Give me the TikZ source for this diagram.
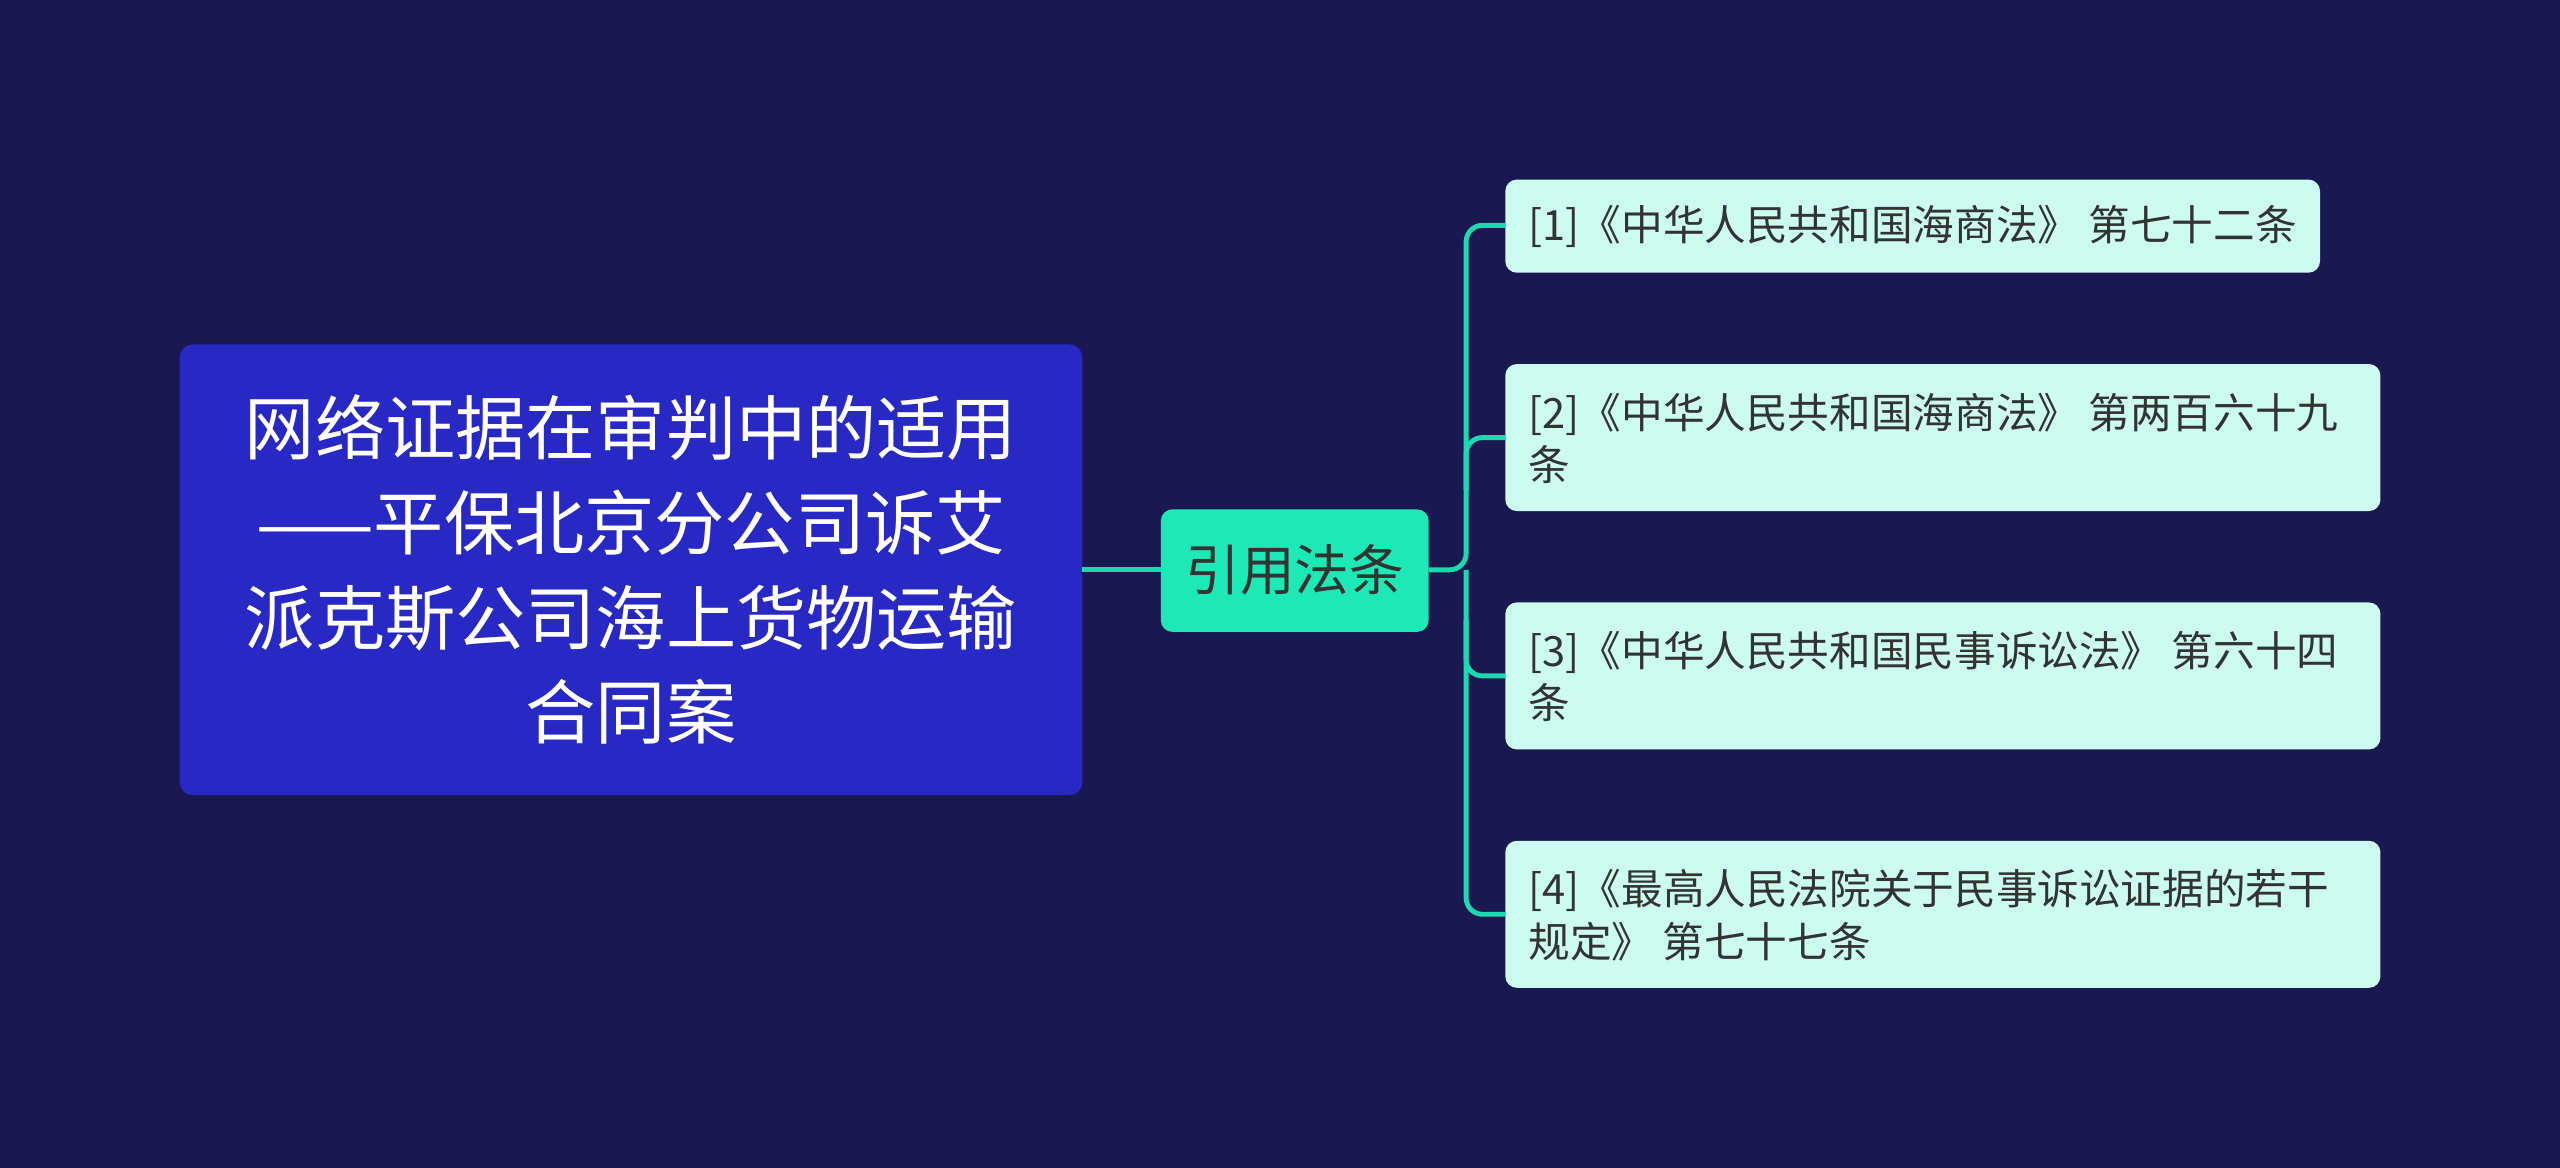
\documentclass[tikz,border=0pt]{standalone}
\usepackage{fontspec}
\setmainfont{Noto Sans CJK SC}
\definecolor{bg}{HTML}{1A1850}
\definecolor{rootc}{HTML}{2828C4}
\definecolor{midc}{HTML}{1DE9B6}
\definecolor{leafc}{HTML}{CCFBEF}
\definecolor{linec}{HTML}{1DD9B0}
\definecolor{txt}{HTML}{333333}
\begin{document}
\begin{tikzpicture}[x=1pt,y=-1pt,
 lt/.style={text=txt,anchor=west,align=left,inner sep=0pt,font=\fontsize{25.5}{32}\selectfont},
 conn/.style={draw=linec,line width=3pt,rounded corners=10pt}]
\useasboundingbox (0,0) rectangle (1568,715);
\fill[bg] (-5,-5) rectangle (1573,720);
\fill[rootc,rounded corners=8pt] (110,211) rectangle (663,487);
\node[text=white,align=center,font=\fontsize{43}{58}\selectfont] (root) at (386.5,349) {网络证据在审判中的适用\\——平保北京分公司诉艾\\派克斯公司海上货物运输\\合同案};
\coordinate (rootE) at (663,349);
\fill[midc,rounded corners=7pt] (711,312) rectangle (875,387);
\node[text=txt,font=\fontsize{33.5}{40}\selectfont] (mid) at (793,349) {引用法条};
\coordinate (midW) at (711,349);
\coordinate (midE) at (875,349);
\fill[leafc,rounded corners=7pt] (922,110) rectangle (1421,167);
\fill[leafc,rounded corners=7pt] (922,223) rectangle (1458,313);
\fill[leafc,rounded corners=7pt] (922,369) rectangle (1458,459);
\fill[leafc,rounded corners=7pt] (922,515) rectangle (1458,605);
\coordinate (l1) at (922,138);
\coordinate (l2) at (922,268);
\coordinate (l3) at (922,414);
\coordinate (l4) at (922,560);
\node[lt] (t1) at (936,138.5) {[1]《中华人民共和国海商法》 第七十二条};
\node[lt] (t2) at (936,268.5) {[2]《中华人民共和国海商法》 第两百六十九\\条};
\node[lt] (t3) at (936,414.5) {[3]《中华人民共和国民事诉讼法》 第六十四\\条};
\node[lt] (t4) at (936,560.5) {[4]《最高人民法院关于民事诉讼证据的若干\\规定》 第七十七条};
\draw[conn] (rootE) -- (midW);
\draw[conn] (midE) -- (898,349) -- (898,138) -- (l1);
\draw[conn] (898,349) -- (898,560) -- (l4);
\draw[conn] (898,300) |- (l2);
\draw[conn] (898,380) |- (l3);
\end{tikzpicture}
\end{document}
